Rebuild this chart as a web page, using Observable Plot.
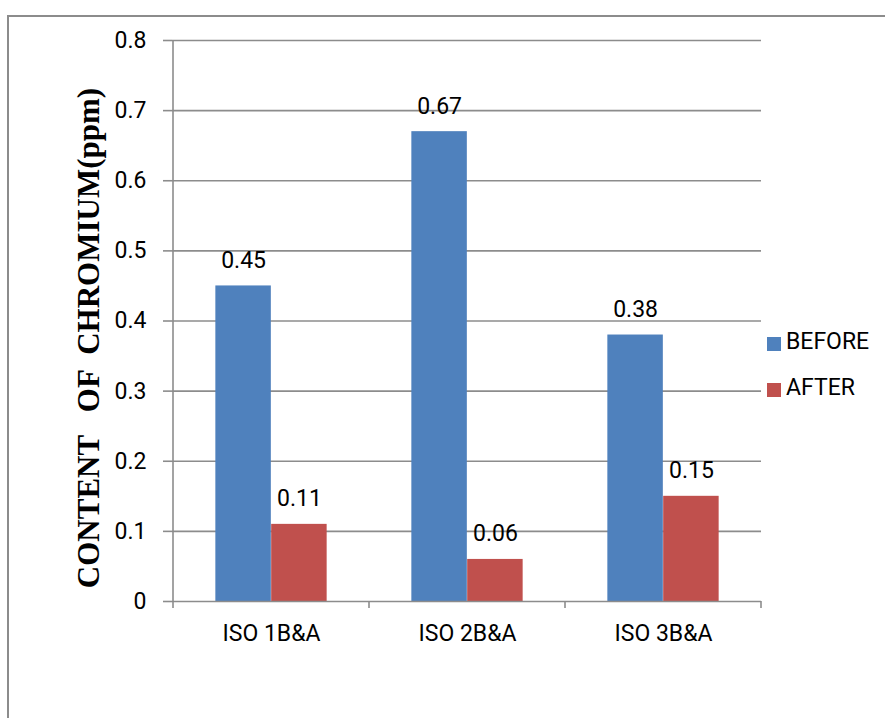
<!DOCTYPE html>
<html>
<head>
<meta charset="utf-8">
<script src="https://cdn.jsdelivr.net/npm/d3@7"></script>
<script src="https://cdn.jsdelivr.net/npm/@observablehq/plot@0.6"></script>
<style>
  body { margin: 0; background: #fff; }
  #wrap { position: relative; width: 885px; height: 718px; overflow: hidden; background: #fff; }
  #frame { position: absolute; left: 7px; top: 15px; width: 950px; height: 800px;
           border-left: 2px solid #8c8c8c; border-top: 2px solid #8c8c8c; }
  #chart { position: absolute; left: 0; top: 0; }
  #chart text { white-space: pre; }
  .lg-sw { position: absolute; left: 767px; width: 14px; height: 14px; }
  .lg-tx { position: absolute; left: 786px; font: 23px Roboto, "Liberation Sans", sans-serif;
           line-height: 24px; color: #000; white-space: nowrap; }
</style>
</head>
<body>
<div id="wrap">
  <div id="frame"></div>
  <div id="chart"></div>
  <div id="legend"></div>
</div>
<script>
const categories = ["ISO 1B&A", "ISO 2B&A", "ISO 3B&A"];
const seriesNames = ["BEFORE", "AFTER"];
const beforeValues = [0.45, 0.67, 0.38];
const afterValues = [0.11, 0.06, 0.15];
const yTicks = [0, 0.1, 0.2, 0.3, 0.4, 0.5, 0.6, 0.7, 0.8];
const yLabels = ["0", "0.1", "0.2", "0.3", "0.4", "0.5", "0.6", "0.7", "0.8"];
const seriesColors = ["#4f81bd", "#c0504d"];
const yTitle = "CONTENT   OF  CHROMIUM(ppm)";

const W = 885, H = 718;
const mL = 172, mR = 124, mT = 40, mB = 117;
const bandW = (W - mL - mR) / categories.length;
const barW = bandW * 0.2843;
const outer = bandW / 2 - barW;

const rows = seriesNames.map((s, si) =>
  categories.map((c, i) => ({cat: c, series: s, value: (si === 0 ? beforeValues : afterValues)[i]}))
);

const sans = 'Roboto, "Liberation Sans", sans-serif';
const grid = "#8c8c8c";

const chart = Plot.plot({
  width: W, height: H,
  marginLeft: mL, marginRight: mR, marginTop: mT, marginBottom: mB,
  style: {background: "transparent", fontFamily: sans, fontSize: "23px", color: "#000", overflow: "visible"},
  x: {type: "band", domain: categories, padding: 0, label: null},
  y: {domain: [0, 0.8], label: null},
  marks: [
    Plot.ruleY(yTicks.filter(t => t > 0), {stroke: grid, strokeWidth: 1.6}),
    Plot.barY(rows[0], {x: "cat", y: "value", fill: seriesColors[0], insetLeft: outer, insetRight: outer + barW}),
    Plot.barY(rows[1], {x: "cat", y: "value", fill: seriesColors[1], insetLeft: outer + barW, insetRight: outer}),
    Plot.ruleY([0], {stroke: grid, strokeWidth: 1.6}),
    Plot.text(rows[0], {x: "cat", y: "value", text: d => d.value.toFixed(2), dx: -barW / 2, dy: -18,
      fontSize: 23, fill: "#000", textAnchor: "middle", lineAnchor: "bottom"}),
    Plot.text(rows[1], {x: "cat", y: "value", text: d => d.value.toFixed(2), dx: barW / 2, dy: -18,
      fontSize: 23, fill: "#000", textAnchor: "middle", lineAnchor: "bottom"}),
    Plot.axisY({ticks: yTicks, tickFormat: d => yLabels[yTicks.indexOf(d)], tickSize: 9, tickPadding: 17,
      stroke: grid, strokeWidth: 1.6, fontSize: 23, label: null}),
    Plot.axisX({tickSize: 0, tickPadding: 23, fontSize: 23, label: null}),
    Plot.text([yTitle], {frameAnchor: "left", rotate: -90, dx: -83, dy: 17, fontSize: 31, fontWeight: "bold",
      fontFamily: '"Liberation Serif", "Times New Roman", serif', fill: "#000", textAnchor: "middle", lineAnchor: "middle"})
  ]
});
document.getElementById("chart").appendChild(chart);

// axis line and category boundary ticks, placed through the plot's own scales
const xs = chart.scale("x"), ys = chart.scale("y");
const y0 = ys.apply(0), yTop = ys.apply(0.8);
const bounds = categories.map(c => xs.apply(c)).concat([xs.apply(categories[categories.length - 1]) + xs.step]);
const svg = d3.select(chart);
const g = svg.append("g").attr("stroke", grid).attr("stroke-width", 1.6);
g.append("line").attr("x1", bounds[0]).attr("x2", bounds[0]).attr("y1", yTop).attr("y2", y0 + 7);
bounds.slice(1).forEach(b => g.append("line").attr("x1", b).attr("x2", b).attr("y1", y0).attr("y2", y0 + 7));

// legend
const legend = document.getElementById("legend");
const lgTops = [337, 383];
seriesNames.forEach((s, i) => {
  const sw = document.createElement("div");
  sw.className = "lg-sw"; sw.style.top = lgTops[i] + "px"; sw.style.background = seriesColors[i];
  legend.appendChild(sw);
  const tx = document.createElement("div");
  tx.className = "lg-tx"; tx.style.top = (lgTops[i] - 7) + "px"; tx.textContent = s;
  legend.appendChild(tx);
});
</script>
</body>
</html>
